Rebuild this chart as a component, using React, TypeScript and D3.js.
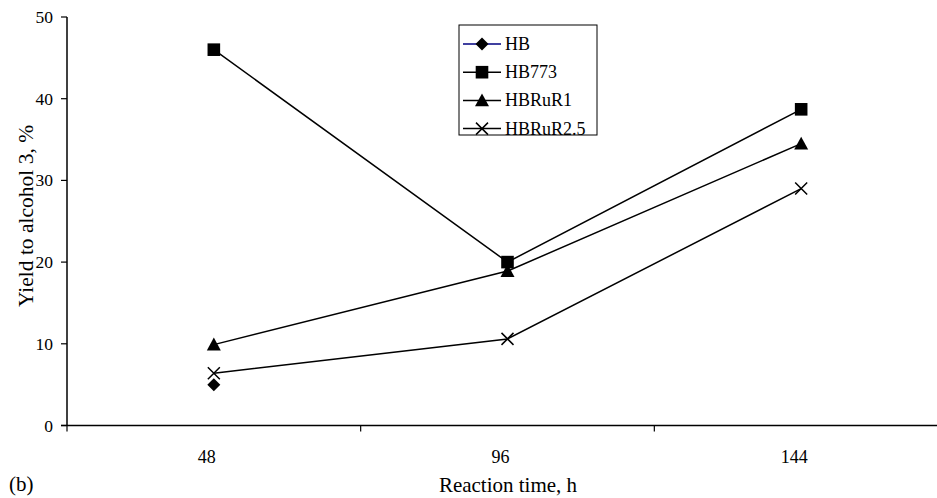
import React from "react";
import * as d3 from "d3";

const categories = ["48", "96", "144"];
const seriesNames = ["HB", "HB773", "HBRuR1", "HBRuR2.5"];
const hbValues: (number | null)[] = [5, null, null];
const hb773Values: (number | null)[] = [46, 20, 38.7];
const hbRuR1Values: (number | null)[] = [9.9, 18.9, 34.5];
const hbRuR25Values: (number | null)[] = [6.4, 10.6, 29];
const yTicks = [0, 10, 20, 30, 40, 50];

const W = 937;
const H = 498;
const FONT = "'Liberation Serif', 'Times New Roman', serif";

function Marker({ type, x, y }: { type: string; x: number; y: number }) {
  if (type === "diamond") {
    const s = 6.5;
    return <path d={`M${x},${y - s}L${x + s},${y}L${x},${y + s}L${x - s},${y}Z`} fill="#000" />;
  }
  if (type === "square") {
    const s = 6.3;
    return <rect x={x - s} y={y - s} width={2 * s} height={2 * s} fill="#000" />;
  }
  if (type === "triangle") {
    const s = 7;
    return <path d={`M${x},${y - s}L${x + s},${y + s * 0.85}L${x - s},${y + s * 0.85}Z`} fill="#000" />;
  }
  const s = 6;
  return (
    <path d={`M${x - s},${y - s}L${x + s},${y + s}M${x - s},${y + s}L${x + s},${y - s}`} stroke="#000" strokeWidth={1.5} fill="none" />
  );
}

export default function App() {
  const x = d3.scaleBand<string>().domain(categories).range([67, 948]);
  const y = d3.scaleLinear().domain([0, 50]).range([425.5, 17]);
  const cx = (c: string) => (x(c) as number) + x.bandwidth() / 2;

  const series = [
    { name: seriesNames[0], values: hbValues, marker: "diamond", color: "#000080" },
    { name: seriesNames[1], values: hb773Values, marker: "square", color: "#000" },
    { name: seriesNames[2], values: hbRuR1Values, marker: "triangle", color: "#000" },
    { name: seriesNames[3], values: hbRuR25Values, marker: "x", color: "#000" },
  ];

  const line = d3
    .line<[string, number | null]>()
    .defined((d) => d[1] != null)
    .x((d) => cx(d[0]))
    .y((d) => y(d[1] as number));

  const xTickPositions = [...categories.map((c) => x(c) as number), 948];

  return (
    <svg width={W} height={H} style={{ position: "absolute", left: 0, top: 0, background: "#fff" }}>
      <rect width={W} height={H} fill="#fff" />
      {/* y axis */}
      <line x1={67} x2={67} y1={17} y2={425.5} stroke="#000" strokeWidth={1.5} />
      {yTicks.map((t) => (
        <g key={t}>
          <line x1={61} x2={67} y1={y(t)} y2={y(t)} stroke="#000" strokeWidth={1.2} />
          <text x={53} y={y(t) + 6} textAnchor="end" fontFamily={FONT} fontSize={17.5} fill="#000">
            {t}
          </text>
        </g>
      ))}
      {/* x axis */}
      <line x1={61} x2={948} y1={425.5} y2={425.5} stroke="#000" strokeWidth={1.5} />
      {xTickPositions.map((p, i) => (
        <line key={i} x1={p} x2={p} y1={425.5} y2={431.5} stroke="#000" strokeWidth={1.2} />
      ))}
      {categories.map((c) => (
        <text key={c} x={cx(c) - 7} y={463} textAnchor="middle" fontFamily={FONT} fontSize={18} fill="#000">
          {c}
        </text>
      ))}
      <text x={508} y={492} textAnchor="middle" fontFamily={FONT} fontSize={21} fill="#000">
        Reaction time, h
      </text>
      <text x={9} y={491} fontFamily={FONT} fontSize={21} fill="#000">
        (b)
      </text>
      <text
        transform={`translate(33,216) rotate(-90)`}
        textAnchor="middle"
        fontFamily={FONT}
        fontSize={21.5}
        fill="#000"
      >
        Yield to alcohol 3, %
      </text>
      {/* series */}
      {series.map((s) => {
        const pts = categories.map((c, i) => [c, s.values[i]] as [string, number | null]);
        return (
          <g key={s.name}>
            <path d={line(pts) || ""} fill="none" stroke={s.color} strokeWidth={1.5} />
            {pts
              .filter((p) => p[1] != null)
              .map((p) => (
                <Marker key={p[0]} type={s.marker} x={cx(p[0])} y={y(p[1] as number)} />
              ))}
          </g>
        );
      })}
      {/* legend */}
      <rect x={459} y={25} width={138} height={110} fill="#fff" stroke="#000" strokeWidth={1} />
      {series.map((s, i) => {
        const ly = 44 + i * 28.2;
        return (
          <g key={s.name}>
            <line x1={463} x2={501} y1={ly} y2={ly} stroke={s.color} strokeWidth={1.5} />
            <Marker type={s.marker} x={482} y={ly} />
            <text x={505} y={ly + 6} fontFamily={FONT} fontSize={18} fill="#000">
              {s.name}
            </text>
          </g>
        );
      })}
    </svg>
  );
}
